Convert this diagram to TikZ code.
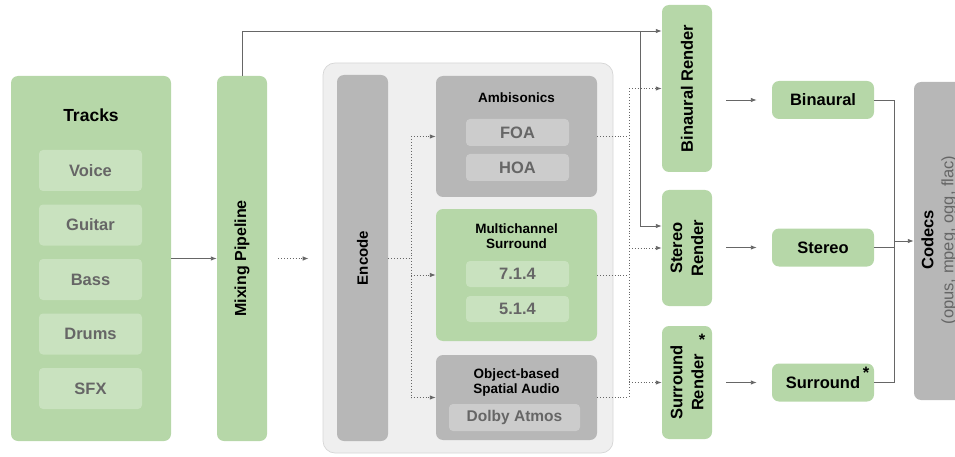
\documentclass[tikz,border=0pt]{standalone}
\usepackage{fontspec}
\setmainfont{Liberation Sans}
\usetikzlibrary{arrows.meta,calc}

\definecolor{boxgreen}{HTML}{B6D7A8}
\definecolor{chipgreen}{HTML}{C9E2BF}
\definecolor{boxgray}{HTML}{B7B7B7}
\definecolor{chipgray}{HTML}{CCCCCC}
\definecolor{panel}{HTML}{EFEFEF}
\definecolor{panelline}{HTML}{D6D6D6}
\definecolor{ink}{HTML}{666666}

\begin{document}
\begin{tikzpicture}[x=1pt, y=-1pt,
  roundbox/.style={rounded corners=7pt, inner sep=0pt, draw=none},
  greenbox/.style={roundbox, fill=boxgreen},
  graybox/.style={roundbox, fill=boxgray},
  chip/.style={roundbox, rounded corners=4pt, text=ink, font=\fontsize{16.5}{19}\selectfont\bfseries},
  bigtext/.style={inner sep=0pt, font=\fontsize{16.5}{21}\selectfont\bfseries},
  smalltitle/.style={inner sep=0pt, align=center, font=\fontsize{13.5}{15}\selectfont\bfseries},
  line/.style={draw=ink, line width=0.9pt},
  arrowline/.style={line, -{Latex[length=6pt,width=4.5pt]}},
  dotline/.style={draw=ink, line width=0.9pt, dotted},
  dotarrow/.style={dotline, -{Latex[length=6pt,width=4.5pt]}}]

\clip (0,0) rectangle (955,457);

\node[greenbox, minimum width=160pt, minimum height=365pt] (tracks) at (91,258.5) {};
\node[bigtext, font=\fontsize{17.5}{21}\selectfont\bfseries] (trackstitle) at (91,115) {Tracks};
\foreach \t [count=\i from 0] in {Voice,Guitar,Bass,Drums,SFX}
  \node[chip, fill=chipgreen, minimum width=103pt, minimum height=41pt] (track\i) at (90.5,{170.5+54.5*\i}) {\t};

\node[greenbox, minimum width=50pt, minimum height=365pt] (mix) at (242,258.5) {};
\node[bigtext, rotate=90, font=\fontsize{16}{21}\selectfont\bfseries] (mixtext) at (mix) {Mixing Pipeline};

\node[roundbox, fill=panel, draw=panelline, line width=0.7pt, rounded corners=12pt, minimum width=290pt, minimum height=390pt] (encoder) at (468,258) {};
\node[graybox, minimum width=51pt, minimum height=366pt] (encode) at (362.5,258) {};
\node[bigtext, rotate=90, font=\fontsize{15}{21}\selectfont\bfseries] (encodetext) at (encode) {Encode};

\node[graybox, minimum width=161pt, minimum height=121pt] (ambi) at (516.5,136.5) {};
\node[smalltitle] (ambititle) at (516.5,98) {Ambisonics};
\node[chip, fill=chipgray, minimum width=103pt, minimum height=27pt] (foa) at (517.5,132.5) {FOA};
\node[chip, fill=chipgray, minimum width=103pt, minimum height=27pt] (hoa) at (517.5,167.5) {HOA};

\node[greenbox, minimum width=161pt, minimum height=132pt] (multi) at (516.5,275) {};
\node[smalltitle] (multititle) at (516.5,236.5) {Multichannel\\Surround};
\node[chip, fill=chipgreen, minimum width=103pt, minimum height=26pt] (ch714) at (517.5,274) {7.1.4};
\node[chip, fill=chipgreen, minimum width=103pt, minimum height=26pt] (ch514) at (517.5,309) {5.1.4};

\node[graybox, minimum width=161pt, minimum height=85pt] (obj) at (516.5,397.5) {};
\node[smalltitle] (objtitle) at (516.5,382.5) {Object-based\\Spatial Audio};
\node[chip, fill=chipgray, minimum width=131pt, minimum height=27pt, font=\fontsize{15.5}{19}\selectfont\bfseries] (atmos) at (514.5,417.5) {Dolby Atmos};

\node[greenbox, minimum width=50pt, minimum height=167pt] (brender) at (687,88.5) {};
\node[bigtext, rotate=90] (brendertext) at (brender) {Binaural Render};
\node[greenbox, minimum width=50pt, minimum height=116pt] (srender) at (687,248) {};
\node[bigtext, rotate=90, align=center] (srendertext) at (srender) {Stereo\\Render};
\node[greenbox, minimum width=50pt, minimum height=113pt] (urender) at (687,382.5) {};
\node[bigtext, rotate=90, align=center] (urendertext) at (urender) {Surround\\Render};
\node[bigtext] (urenderstar) at (702,340) {*};

\node[greenbox, bigtext, minimum width=102pt, minimum height=38pt] (binaural) at (823,100) {Binaural};
\node[greenbox, bigtext, minimum width=102pt, minimum height=38pt] (stereo) at (823,247.5) {Stereo};
\node[greenbox, bigtext, minimum width=102pt, minimum height=38pt] (surround) at (823,382.5) {Surround};
\node[bigtext] (surroundstar) at (866,373) {*};

\node[graybox, minimum width=50pt, minimum height=318pt] (codecs) at (939,241) {};
\node[inner sep=0pt, rotate=90, align=center, font=\fontsize{16.5}{20}\selectfont] (codecstext) at (939,240) {{\bfseries Codecs}\\{\color{ink}(opus, mpeg, ogg, flac)}};

\draw[arrowline] (tracks.east) -- (mix.west);
\coordinate (split) at (640,31);
\draw[line] (mix.north) |- (split);
\draw[arrowline] (split) -- (split -| brender.west);
\draw[arrowline] (split) |- ($(srender.west)+(0,-22)$);
\draw[dotarrow, shorten <=11pt, shorten >=14pt] (mix.east) -- (mix.east -| encoder.west);

\coordinate (inbus) at (411,258);
\draw[dotline] (encode.east) -- (inbus);
\draw[dotline] (inbus |- ambi.west) -- (inbus |- obj.west);
\foreach \b in {ambi,multi,obj}
  \draw[dotarrow] (inbus |- \b.west) -- (\b.west);

\coordinate (outbus) at (629,0);
\foreach \b in {ambi,multi,obj}
  \draw[dotline] (\b.east) -- (\b.east -| outbus);
\draw[dotline] (outbus |- brender.west) -- (outbus |- obj.east);
\foreach \r in {brender,srender,urender}
  \draw[dotarrow] (outbus |- \r.west) -- (\r.west);

\draw[arrowline, shorten <=14pt, shorten >=15pt] (binaural.west -| brender.east) -- (binaural.west);
\draw[arrowline, shorten <=14pt, shorten >=15pt] (stereo.west -| srender.east) -- (stereo.west);
\draw[arrowline, shorten <=14pt, shorten >=15pt] (surround.west -| urender.east) -- (surround.west);

\coordinate (mergebus) at (894,241);
\draw[line] (binaural.east) -| (mergebus);
\draw[line] (surround.east) -| (mergebus);
\draw[line] (stereo.east) -- (stereo.east -| mergebus);
\draw[arrowline] (mergebus) -- (codecs.west);
\end{tikzpicture}
\end{document}
